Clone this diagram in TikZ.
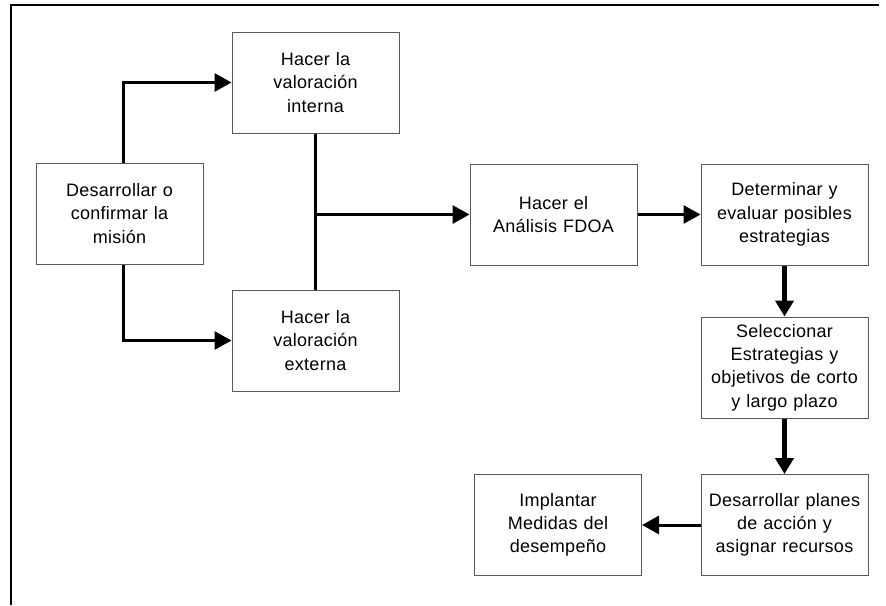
\documentclass[tikz,border=0pt]{standalone}
\usepackage{fontspec}
\setmainfont{Liberation Sans}[LetterSpace=1.5]
\usetikzlibrary{arrows.meta}
\begin{document}
\begin{tikzpicture}[x=1pt,y=-1pt,
  box/.style={draw=black!65, line width=1pt, fill=white,
    minimum width=167pt, minimum height=101pt, inner sep=2pt,
    text width=163pt, align=center,
    font=\fontsize{18pt}{23.3pt}\selectfont},
  conn/.style={line width=3pt},
  arr/.style={line width=3pt, -{Triangle[length=17pt,width=18pt]}},
  varr/.style={line width=5.5pt, -{Triangle[length=16pt,width=18pt]}}]
  \useasboundingbox (0,0) rectangle (886,605);
  % open frame: top and left edges only
  \draw[line width=2.8pt] (11,605) -- (11,5) -- (879,5);

  % process steps
  \node[box] (mision)  at (119.5,213.5) {Desarrollar o\\confirmar la\\misión};
  \node[box] (interna) at (315.5,82.5)  {Hacer la\\valoración\\interna};
  \node[box] (externa) at (315.5,340.5) {Hacer la\\valoración\\externa};
  \node[box] (fdoa)    at (553.5,214.5) {Hacer el\\Análisis FDOA};
  \node[box] (determ)  at (784.5,214.5) {Determinar y\\evaluar posibles\\estrategias};
  \node[box] (selec)   at (784.5,367.5) {Seleccionar\\Estrategias y\\objetivos de corto\\y largo plazo};
  \node[box] (planes)  at (784.5,525)   {Desarrollar planes\\de acción y\\asignar recursos};
  \node[box] (implant) at (558,525)     {Implantar\\Medidas del\\desempeño};

  % connectors
  \draw[arr] ([xshift=3.5pt]mision.north) |- (interna.west);
  \draw[arr] ([xshift=3.5pt]mision.south) |- (externa.west);
  \draw[conn] (interna.south) -- (externa.north);
  \coordinate (join) at (interna.south |- fdoa.west);
  \draw[arr] ([xshift=-1.5pt]join) -- (fdoa.west);
  \draw[arr] (fdoa.east) -- (determ.west);
  \draw[varr] (determ.south) -- (selec.north);
  \draw[varr] (selec.south) -- (planes.north);
  \draw[arr] (planes.west) -- (implant.east);
\end{tikzpicture}
\end{document}
